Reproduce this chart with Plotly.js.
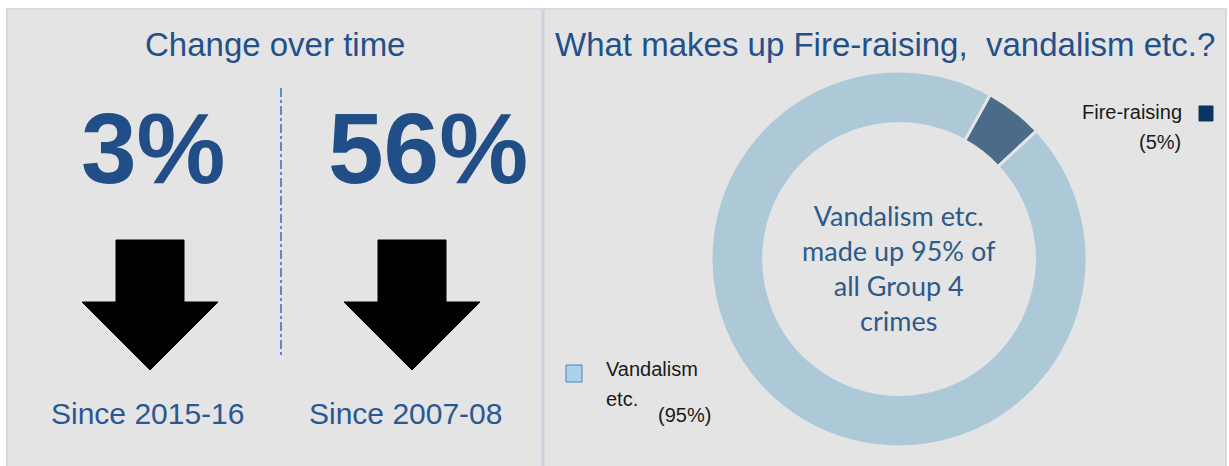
<!DOCTYPE html>
<html>
<head>
<meta charset="utf-8">
<script src="https://cdn.plot.ly/plotly-3.0.1.min.js"></script>
<style>
  html, body { margin: 0; padding: 0; background: #ffffff; }
  #chart { width: 1229px; height: 466px; }
</style>
</head>
<body>
<div id="chart"></div>
<script>
// change over time
var changeValues = ["3%", "56%"];
var changePeriods = ["Since 2015-16", "Since 2007-08"];

// what makes up group 4
var crimeTypes = ["Fire-raising", "Vandalism etc."];
var crimeShares = [5, 95];
var centreNote = "Vandalism etc.<br>made up 95% of<br>all Group 4<br>crimes";

var W = 1229, H = 466;
var px = function(x) { return x / W; };
var py = function(y) { return 1 - y / H; };
var unit = 1 / 262; // one pixel in x data units on left panel

// black down arrows, one per period
var arrowTraces = changePeriods.map(function(p, i) {
  var xs = [-34, 34, 34, 68, 0, -68, -34, -34].map(function(d) { return i + d * unit; });
  var ys = [240, 240, 302, 302, 370, 302, 302, 240];
  return {
    x: xs, y: ys, type: "scatter", mode: "lines", fill: "toself",
    fillcolor: "#000000", line: {color: "#000000", width: 1},
    hoverinfo: "skip", showlegend: false, xaxis: "x", yaxis: "y"
  };
});

var donut = {
  type: "pie",
  labels: crimeTypes,
  values: crimeShares,
  sort: false,
  direction: "clockwise",
  rotation: 29,
  hole: 0.72,
  textinfo: "none",
  hoverinfo: "label+percent",
  marker: {colors: ["#4b6b89", "#adc9d7"], line: {color: "#e4e4e4", width: 3}},
  domain: {x: [px(711), px(1087)], y: [py(447), py(71)]},
  showlegend: false
};

var sans = "Liberation Sans, Arial";
function note(x, y, text, size, color, xanchor, family) {
  return {x: px(x), y: py(y), xref: "paper", yref: "paper", text: text, showarrow: false,
          xanchor: xanchor || "center", yanchor: "middle", align: "center",
          font: {family: family || sans, size: size, color: color}};
}

var annotations = [];
changeValues.forEach(function(v, i) {
  annotations.push({
    x: i, y: 148, xref: "x", yref: "y", text: v, showarrow: false,
    xanchor: "center", yanchor: "middle", xshift: i === 0 ? 3 : 16,
    font: {family: sans, size: 100, weight: "bold", color: "#214e86"}
  });
});
changePeriods.forEach(function(p, i) {
  annotations.push({
    x: i, y: 413, xref: "x", yref: "y", text: p, showarrow: false,
    xanchor: "center", yanchor: "middle", xshift: i === 0 ? -3 : -7,
    font: {family: sans, size: 30, color: "#2a5893"}
  });
});
annotations.push(
  note(275, 45, "Change over time", 33, "#24508a"),
  note(885, 45, "What makes up Fire-raising,  vandalism etc.?", 33, "#24508a"),
  note(899, 268, centreNote, 27, "#2e5a8a", "center", "Lato, Open Sans"),
  note(1184, 112, crimeTypes[0], 20, "#1a1a1a", "right"),
  note(1183, 142, "(" + crimeShares[0] + "%)", 20, "#1a1a1a", "right"),
  note(604, 369, "Vandalism", 20, "#1a1a1a", "left"),
  note(604, 399, "etc.", 20, "#1a1a1a", "left"),
  note(656, 415, "(" + crimeShares[1] + "%)", 20, "#1a1a1a", "left")
);

var shapes = [
  // panel background
  {type: "rect", xref: "paper", yref: "paper", x0: px(7), x1: px(1226), y0: py(480), y1: py(9),
   fillcolor: "#e4e4e4", line: {color: "#d3dae3", width: 2}, layer: "below"},
  // panel divider
  {type: "line", xref: "paper", yref: "paper", x0: px(543), x1: px(543), y0: py(480), y1: py(9),
   line: {color: "#c9d2de", width: 3}, layer: "below"},
  // dash-dot separator
  {type: "line", xref: "x", yref: "y", x0: 0.5, x1: 0.5, y0: 88, y1: 358,
   line: {color: "#5b8bc9", width: 2, dash: "dashdot"}},
  // legend keys
  {type: "rect", xref: "paper", yref: "paper", x0: px(1199), x1: px(1213), y0: py(121), y1: py(106),
   fillcolor: "#0b3463", line: {color: "#0b3463", width: 1}},
  {type: "rect", xref: "paper", yref: "paper", x0: px(566), x1: px(582), y0: py(382), y1: py(365),
   fillcolor: "#a9d3ea", line: {color: "#4f81bd", width: 1}}
];

var layout = {
  width: W, height: H,
  margin: {l: 0, r: 0, t: 0, b: 0},
  paper_bgcolor: "#ffffff",
  plot_bgcolor: "rgba(0,0,0,0)",
  showlegend: false,
  xaxis: {domain: [px(19), px(543)], range: [-0.5, 1.5], visible: false, fixedrange: true},
  yaxis: {domain: [0, 1], range: [466, 0], visible: false, fixedrange: true},
  shapes: shapes,
  annotations: annotations
};

Plotly.newPlot("chart", arrowTraces.concat([donut]), layout, {displayModeBar: false, staticPlot: true});
</script>
</body>
</html>
